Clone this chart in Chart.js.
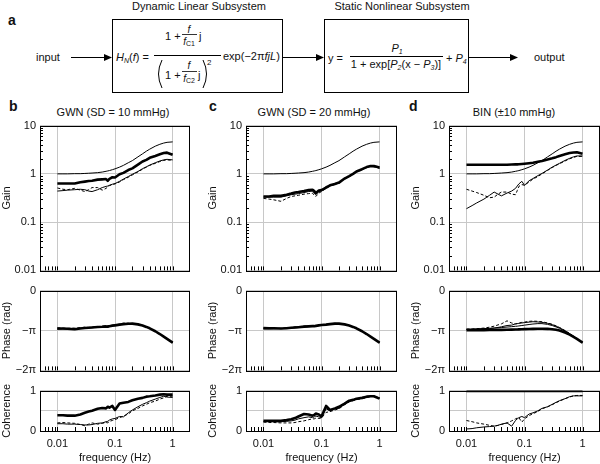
<!DOCTYPE html>
<html><head><meta charset="utf-8">
<script src="https://cdn.jsdelivr.net/npm/chart.js@4/dist/chart.umd.min.js"></script>
<style>
html,body{margin:0;padding:0;background:#fff;}
#root{position:relative;width:600px;height:464px;overflow:hidden;background:#fff;}
svg text{font-family:"Liberation Sans",Arial,Helvetica,sans-serif;}
</style></head>
<body><div id="root">
<svg width="600" height="464" style="position:absolute;left:0;top:0;z-index:0" font-size="11" fill="#111">
<text x="8" y="25" font-size="14" font-weight="bold">a</text>
<text x="199" y="10" text-anchor="middle">Dynamic Linear Subsystem</text>
<text x="402" y="10" text-anchor="middle">Static Nonlinear Subsystem</text>
<rect x="112.5" y="19.5" width="170" height="73" fill="none" stroke="#000"/>
<rect x="324.5" y="19.5" width="144" height="73" fill="none" stroke="#000"/>
<text x="36" y="61">input</text>
<line x1="71" y1="57.5" x2="105" y2="57.5" stroke="#000"/>
<polygon points="104,54 112,57.5 104,61" fill="#000"/>
<line x1="283" y1="57.5" x2="317" y2="57.5" stroke="#000"/>
<polygon points="316,54 324,57.5 316,61" fill="#000"/>
<line x1="469" y1="57.5" x2="511" y2="57.5" stroke="#000"/>
<polygon points="510,54 518,57.5 510,61" fill="#000"/>
<text x="534" y="61">output</text>
<!-- formula box 1 -->
<text x="116" y="61"><tspan font-style="italic">H</tspan><tspan font-size="7" dy="2" font-style="italic">N</tspan><tspan dy="-2">(</tspan><tspan font-style="italic">f</tspan>) =</text>
<line x1="154" y1="55.5" x2="221" y2="55.5" stroke="#000"/>
<text x="165" y="40">1 +</text>
<text x="189" y="33" text-anchor="middle" font-size="10" font-style="italic">f</text>
<line x1="182" y1="34.5" x2="197" y2="34.5" stroke="#000" stroke-width="0.8"/>
<text x="189" y="45" text-anchor="middle" font-size="10"><tspan font-style="italic">f</tspan><tspan font-size="7" dy="1">C1</tspan></text>
<text x="199" y="40">j</text>
<path d="M162,60 Q155,74 162,88" fill="none" stroke="#000"/>
<text x="165" y="79">1 +</text>
<text x="189" y="69" text-anchor="middle" font-size="10" font-style="italic">f</text>
<line x1="182" y1="71.5" x2="197" y2="71.5" stroke="#000" stroke-width="0.8"/>
<text x="189" y="82" text-anchor="middle" font-size="10"><tspan font-style="italic">f</tspan><tspan font-size="7" dy="1">C2</tspan></text>
<text x="198" y="79">j</text>
<path d="M203,60 Q210,74 203,88" fill="none" stroke="#000"/>
<text x="207" y="65" font-size="8">2</text>
<text x="223" y="60">exp(−2π<tspan font-style="italic">fjL</tspan>)</text>
<!-- formula box 2 -->
<text x="328" y="62">y =</text>
<text x="397" y="52" text-anchor="middle"><tspan font-style="italic">P</tspan><tspan font-size="7" dy="2" font-style="italic">1</tspan></text>
<line x1="350" y1="56.5" x2="443" y2="56.5" stroke="#000"/>
<text x="396" y="68" text-anchor="middle">1 + exp[<tspan font-style="italic">P</tspan><tspan font-size="7" dy="2" font-style="italic">2</tspan><tspan dy="-2">(x − </tspan><tspan font-style="italic">P</tspan><tspan font-size="7" dy="2" font-style="italic">3</tspan><tspan dy="-2">)]</tspan></text>
<text x="446" y="62">+ <tspan font-style="italic">P</tspan><tspan font-size="7" dy="2" font-style="italic">4</tspan></text>
<!-- panel labels / titles -->
<text x="9" y="111" font-size="14" font-weight="bold">b</text>
<text x="113" y="116" text-anchor="middle">GWN (SD = 10 mmHg)</text>
<text x="209" y="111" font-size="14" font-weight="bold">c</text>
<text x="314" y="116" text-anchor="middle">GWN (SD = 20 mmHg)</text>
<text x="409" y="111" font-size="14" font-weight="bold">d</text>
<text x="514" y="116" text-anchor="middle">BIN (±10 mmHg)</text>
</svg>
</div>
<script>
// ---------- data ----------
const FREQ = [0.01,0.0125,0.015,0.02,0.025,0.03,0.035,0.04,0.05,0.06,0.07,0.075,0.08,0.09,0.1,0.12,0.14,0.17,0.2,0.25,0.3,0.35,0.4,0.5,0.6,0.7,0.8,1.0];

const GAIN_MODEL = [1.0,1.0,1.0,1.01,1.01,1.02,1.03,1.04,1.06,1.09,1.13,1.15,1.17,1.22,1.27,1.38,1.5,1.7,1.88,2.25,2.6,2.95,3.25,3.75,4.1,4.35,4.5,4.6];
const PHASE_MODEL = [-3.03,-3.02,-3.01,-2.99,-2.97,-2.95,-2.93,-2.91,-2.87,-2.84,-2.81,-2.8,-2.78,-2.75,-2.72,-2.67,-2.63,-2.6,-2.6,-2.66,-2.75,-2.86,-2.97,-3.2,-3.42,-3.62,-3.8,-4.1];

const GAIN_B_THICK = [0.63,0.63,0.63,0.63,0.67,0.69,0.71,0.72,0.76,0.77,0.78,0.72,0.79,0.85,0.84,0.98,1.05,1.2,1.3,1.55,1.8,1.95,2.15,2.35,2.55,2.7,2.75,2.5];
const GAIN_B_DASH  = [0.51,0.48,0.47,0.5,0.46,0.43,0.47,0.52,0.52,0.46,0.5,0.54,0.57,0.6,0.62,0.68,0.76,0.85,0.95,1.1,1.25,1.38,1.5,1.65,1.8,1.9,1.95,1.9];
const GAIN_B_THIN  = [0.44,0.45,0.46,0.47,0.48,0.47,0.44,0.43,0.47,0.52,0.55,0.56,0.58,0.61,0.63,0.7,0.78,0.88,0.98,1.12,1.28,1.4,1.52,1.7,1.85,1.95,2.0,1.95];
const PHASE_B_THICK = [-2.99,-2.99,-3.0,-3.04,-2.98,-2.94,-2.92,-2.9,-2.87,-2.85,-2.82,-2.84,-2.8,-2.76,-2.74,-2.68,-2.64,-2.61,-2.6,-2.66,-2.75,-2.86,-2.97,-3.2,-3.42,-3.62,-3.8,-4.1];
const PHASE_B_DASH  = [-2.93,-2.96,-2.97,-2.95,-2.92,-2.88,-2.9,-2.87,-2.84,-2.8,-2.78,-2.8,-2.76,-2.74,-2.7,-2.64,-2.56,-2.58,-2.62,-2.64,-2.74,-2.85,-2.96,-3.19,-3.41,-3.61,-3.79,-4.09];
const PHASE_B_THIN  = [-3.02,-3.0,-3.03,-3.0,-2.96,-2.95,-2.9,-2.92,-2.88,-2.83,-2.82,-2.78,-2.77,-2.73,-2.68,-2.7,-2.62,-2.57,-2.63,-2.67,-2.76,-2.87,-2.98,-3.21,-3.43,-3.63,-3.81,-4.11];
const COH_B_THICK = [0.39,0.39,0.38,0.38,0.41,0.45,0.48,0.5,0.55,0.57,0.56,0.6,0.58,0.62,0.52,0.68,0.7,0.72,0.76,0.8,0.82,0.85,0.86,0.88,0.9,0.91,0.9,0.9];
const COH_B_DASH  = [0.2,0.21,0.2,0.19,0.16,0.13,0.17,0.2,0.17,0.19,0.21,0.2,0.24,0.26,0.28,0.33,0.37,0.42,0.5,0.56,0.62,0.66,0.7,0.74,0.79,0.82,0.86,0.86];
const COH_B_THIN  = [0.18,0.18,0.17,0.17,0.16,0.15,0.15,0.16,0.19,0.2,0.23,0.24,0.27,0.3,0.31,0.36,0.35,0.45,0.52,0.6,0.66,0.7,0.74,0.79,0.83,0.86,0.84,0.83];

const GAIN_C_THICK = [0.34,0.34,0.35,0.35,0.37,0.39,0.41,0.42,0.44,0.46,0.47,0.44,0.4,0.45,0.46,0.52,0.58,0.62,0.66,0.8,0.9,1.0,1.12,1.25,1.38,1.45,1.45,1.35];
const GAIN_C_DASH  = [0.31,0.3,0.29,0.27,0.31,0.34,0.35,0.36,0.38,0.39,0.4,0.36,0.34,0.4,0.43,0.5,0.56,0.6,0.65,0.78,0.88,0.98,1.1,1.22,1.35,1.42,1.42,1.3];
const GAIN_C_THIN  = [0.33,0.33,0.33,0.33,0.35,0.37,0.38,0.39,0.41,0.43,0.44,0.4,0.37,0.43,0.45,0.55,0.56,0.64,0.63,0.82,0.87,1.02,1.08,1.28,1.35,1.48,1.4,1.33];
const PHASE_C_THICK = [-2.95,-2.96,-2.97,-2.99,-2.96,-2.93,-2.9,-2.88,-2.84,-2.82,-2.8,-2.8,-2.78,-2.74,-2.71,-2.68,-2.64,-2.6,-2.6,-2.66,-2.75,-2.86,-2.97,-3.2,-3.42,-3.62,-3.8,-4.1];
const PHASE_C_DASH  = [-2.93,-2.94,-2.98,-2.97,-2.93,-2.9,-2.86,-2.84,-2.8,-2.79,-2.76,-2.78,-2.75,-2.73,-2.7,-2.66,-2.6,-2.58,-2.6,-2.65,-2.74,-2.85,-2.96,-3.19,-3.41,-3.61,-3.79,-4.09];
const PHASE_C_THIN  = [-2.97,-2.98,-2.96,-3.0,-2.97,-2.92,-2.89,-2.86,-2.82,-2.8,-2.78,-2.82,-2.77,-2.72,-2.7,-2.67,-2.62,-2.59,-2.61,-2.67,-2.76,-2.87,-2.98,-3.21,-3.43,-3.63,-3.81,-4.11];
const COH_C_THICK = [0.25,0.25,0.25,0.25,0.27,0.29,0.32,0.36,0.42,0.41,0.38,0.4,0.43,0.41,0.36,0.62,0.52,0.56,0.6,0.68,0.75,0.77,0.8,0.82,0.85,0.86,0.86,0.8];
const COH_C_DASH  = [0.22,0.21,0.21,0.2,0.2,0.2,0.21,0.23,0.25,0.28,0.3,0.3,0.32,0.31,0.32,0.46,0.48,0.52,0.55,0.65,0.72,0.75,0.78,0.8,0.83,0.85,0.86,0.82];
const COH_C_THIN  = [0.24,0.24,0.23,0.23,0.24,0.25,0.27,0.3,0.33,0.35,0.33,0.35,0.37,0.35,0.33,0.55,0.5,0.55,0.56,0.67,0.73,0.76,0.79,0.81,0.84,0.86,0.85,0.81];

const GAIN_D_THICK = [1.55,1.55,1.55,1.55,1.55,1.55,1.55,1.55,1.55,1.56,1.57,1.57,1.58,1.6,1.62,1.66,1.7,1.78,1.85,1.98,2.1,2.22,2.35,2.55,2.7,2.78,2.8,2.6];
const GAIN_D_DASH  = [0.48,0.44,0.41,0.36,0.32,0.33,0.38,0.42,0.42,0.38,0.37,0.45,0.55,0.6,0.58,0.68,0.78,0.88,1.0,1.18,1.35,1.5,1.62,1.85,2.05,2.2,2.3,2.3];
const GAIN_D_THIN  = [0.19,0.22,0.25,0.3,0.36,0.42,0.38,0.35,0.4,0.44,0.5,0.56,0.62,0.7,0.58,0.72,0.8,0.92,1.02,1.2,1.38,1.52,1.65,1.9,2.1,2.25,2.35,2.35];
const PHASE_D_THICK = [-3.12,-3.12,-3.11,-3.11,-3.1,-3.1,-3.09,-3.09,-3.08,-3.07,-3.06,-3.06,-3.05,-3.04,-3.03,-3.02,-3.01,-3.0,-3.0,-3.01,-3.04,-3.08,-3.14,-3.3,-3.47,-3.64,-3.8,-4.1];
const PHASE_D_DASH  = [-3.03,-3.02,-3.0,-2.95,-2.88,-2.8,-2.7,-2.62,-2.38,-2.55,-2.62,-2.6,-2.55,-2.5,-2.48,-2.42,-2.4,-2.42,-2.45,-2.55,-2.65,-2.78,-2.9,-3.15,-3.38,-3.58,-3.78,-4.1];
const PHASE_D_THIN  = [-3.08,-3.06,-3.05,-3.02,-2.99,-2.95,-2.9,-2.85,-2.75,-2.72,-2.62,-2.6,-2.58,-2.55,-2.52,-2.48,-2.45,-2.47,-2.5,-2.58,-2.68,-2.8,-2.92,-3.16,-3.39,-3.59,-3.78,-4.1];
const COH_D_THICK = [0.99,0.99,0.99,0.99,0.99,0.99,0.99,0.99,0.99,0.99,0.99,0.99,0.99,0.99,0.99,0.99,0.99,0.99,0.99,0.99,0.99,0.99,0.99,0.99,0.99,0.99,0.99,0.99];
const COH_D_DASH  = [0.26,0.23,0.2,0.17,0.14,0.12,0.14,0.16,0.2,0.25,0.3,0.32,0.33,0.22,0.3,0.38,0.43,0.48,0.55,0.6,0.65,0.7,0.74,0.8,0.84,0.87,0.88,0.88];
const COH_D_THIN  = [0.05,0.06,0.08,0.1,0.11,0.12,0.14,0.17,0.2,0.12,0.26,0.3,0.33,0.36,0.33,0.42,0.45,0.5,0.56,0.6,0.66,0.71,0.75,0.8,0.85,0.87,0.87,0.87];

// ---------- ticks ----------
const X_TICKS = [0.01, 0.1, 1];
const X_TICK_LABELS = ['0.01', '0.1', '1'];
const X_MINOR = [0.006,0.007,0.008,0.009,0.01,0.02,0.03,0.04,0.05,0.06,0.07,0.08,0.09,0.1,0.2,0.3,0.4,0.5,0.6,0.7,0.8,0.9,1];
const GAIN_TICKS = [0.01, 0.1, 1, 10];
const GAIN_TICK_LABELS = ['0.01', '0.1', '1', '10'];
const GAIN_MINOR = [0.02,0.03,0.04,0.05,0.06,0.07,0.08,0.09,0.2,0.3,0.4,0.5,0.6,0.7,0.8,0.9,2,3,4,5,6,7,8,9];
const PHASE_TICKS = [-2*Math.PI, -Math.PI, 0];
const PHASE_TICK_LABELS = ['−2π', '−π', '0'];
const COH_TICKS = [0, 0.5, 1];
const COH_TICK_LABELS = ['0', '', '1'];

// ---------- layout ----------
const COLS = { b:{l:40, r:189, pr:8}, c:{l:246, r:396, pr:8}, d:{l:449, r:599, pr:1} };
const ROWS = { gain:{t:123, b:270, pt:8, ah:10}, phase:{t:288, b:370, pt:8, ah:10}, coh:{t:387, b:430, pt:7, ah:34} };
const YW = 40;

Chart.defaults.font.family = '"Liberation Sans", Arial, Helvetica, sans-serif';
Chart.defaults.font.size = 11;
Chart.defaults.color = '#111';

const framePlugin = {
  id: 'frame',
  afterDatasetsDraw(chart, args, opts) {
    const {ctx, chartArea:a, scales} = chart;
    ctx.save();
    ctx.strokeStyle = '#000';
    ctx.lineWidth = 1;
    ctx.setLineDash([]);
    ctx.beginPath();
    (opts.xMinor || []).forEach(v => {
      const px = Math.round(scales.x.getPixelForValue(v)) + 0.5;
      ctx.moveTo(px, a.bottom); ctx.lineTo(px, a.bottom - 4);
    });
    (opts.yMinor || []).forEach(v => {
      const py = Math.round(scales.y.getPixelForValue(v)) + 0.5;
      ctx.moveTo(a.left, py); ctx.lineTo(a.left + 3, py);
    });
    ctx.stroke();
    ctx.strokeRect(Math.round(a.left) + 0.5, Math.round(a.top) + 0.5, Math.round(a.right - a.left) - 1, Math.round(a.bottom - a.top));
    ctx.restore();
  }
};

const STYLE = {
  model: {w:1, dash:[]},
  thick: {w:2.6, dash:[]},
  dash:  {w:1, dash:[3,2]},
  thin:  {w:1, dash:[]}
};

function makePanel(colKey, rowKey, series, yCfg) {
  const C = COLS[colKey], R = ROWS[rowKey];
  const root = document.getElementById('root');
  const cv = document.createElement('canvas');
  const w = YW + (C.r - C.l) + 1 + C.pr;
  const h = R.pt + (R.b - R.t) + 1 + R.ah;
  cv.width = w; cv.height = h;
  cv.style.cssText = `position:absolute;left:${C.l - YW}px;top:${R.t - R.pt}px;width:${w}px;height:${h}px;z-index:1`;
  root.appendChild(cv);
  const isCoh = rowKey === 'coh';
  new Chart(cv, {
    type: 'line',
    data: {
      datasets: series.map(s => ({
        data: FREQ.map((f, i) => ({x: f, y: s.values[i]})),
        borderColor: '#000',
        borderWidth: STYLE[s.kind].w,
        borderDash: STYLE[s.kind].dash,
        pointRadius: 0,
        fill: false,
        tension: 0,
        borderJoinStyle: 'round'
      }))
    },
    options: {
      responsive: false, animation: false, devicePixelRatio: 1, events: [],
      layout: {padding: {left: 0, right: C.pr, top: R.pt, bottom: 0}},
      plugins: {legend: {display: false}, tooltip: {enabled: false},
                frame: {xMinor: X_MINOR, yMinor: yCfg.minor || []}},
      scales: {
        x: {
          type: 'logarithmic', min: 0.005, max: 2,
          afterBuildTicks: s => { s.ticks = X_TICKS.map(v => ({value: v})); },
          afterFit: s => { s.height = R.ah; },
          grid: {color: '#c8c8c8', drawTicks: false},
          border: {display: false},
          ticks: {display: isCoh, autoSkip: false, maxRotation: 0, padding: 6,
                  callback: (v, i) => X_TICK_LABELS[i]},
          title: {display: isCoh, text: 'frequency (Hz)', padding: 0}
        },
        y: {
          type: yCfg.type, min: yCfg.min, max: yCfg.max,
          afterBuildTicks: s => { s.ticks = yCfg.ticks.map(v => ({value: v})); },
          afterFit: s => { s.width = YW; },
          grid: {color: '#c8c8c8', drawTicks: false},
          border: {display: false},
          ticks: {autoSkip: false, padding: 4, callback: (v, i) => yCfg.labels[i]},
          title: {display: true, text: yCfg.title, padding: 0}
        }
      }
    },
    plugins: [framePlugin]
  });
}

const GAIN_Y = {type:'logarithmic', min:0.01, max:10, ticks:GAIN_TICKS, labels:GAIN_TICK_LABELS, minor:GAIN_MINOR, title:'Gain'};
const PHASE_Y = {type:'linear', min:-2*Math.PI, max:0, ticks:PHASE_TICKS, labels:PHASE_TICK_LABELS, title:'Phase (rad)'};
const COH_Y = {type:'linear', min:0, max:1, ticks:COH_TICKS, labels:COH_TICK_LABELS, title:'Coherence'};

const S = (values, kind) => ({values, kind});

makePanel('b','gain',[S(GAIN_MODEL,'model'),S(GAIN_B_DASH,'dash'),S(GAIN_B_THIN,'thin'),S(GAIN_B_THICK,'thick')],GAIN_Y);
makePanel('b','phase',[S(PHASE_MODEL,'model'),S(PHASE_B_DASH,'dash'),S(PHASE_B_THIN,'thin'),S(PHASE_B_THICK,'thick')],PHASE_Y);
makePanel('b','coh',[S(COH_B_DASH,'dash'),S(COH_B_THIN,'thin'),S(COH_B_THICK,'thick')],COH_Y);

makePanel('c','gain',[S(GAIN_MODEL,'model'),S(GAIN_C_DASH,'dash'),S(GAIN_C_THIN,'thin'),S(GAIN_C_THICK,'thick')],GAIN_Y);
makePanel('c','phase',[S(PHASE_MODEL,'model'),S(PHASE_C_DASH,'dash'),S(PHASE_C_THIN,'thin'),S(PHASE_C_THICK,'thick')],PHASE_Y);
makePanel('c','coh',[S(COH_C_DASH,'dash'),S(COH_C_THIN,'thin'),S(COH_C_THICK,'thick')],COH_Y);

makePanel('d','gain',[S(GAIN_MODEL,'model'),S(GAIN_D_DASH,'dash'),S(GAIN_D_THIN,'thin'),S(GAIN_D_THICK,'thick')],GAIN_Y);
makePanel('d','phase',[S(PHASE_MODEL,'model'),S(PHASE_D_DASH,'dash'),S(PHASE_D_THIN,'thin'),S(PHASE_D_THICK,'thick')],PHASE_Y);
makePanel('d','coh',[S(COH_D_DASH,'dash'),S(COH_D_THIN,'thin'),S(COH_D_THICK,'thick')],COH_Y);
</script>
</body></html>
